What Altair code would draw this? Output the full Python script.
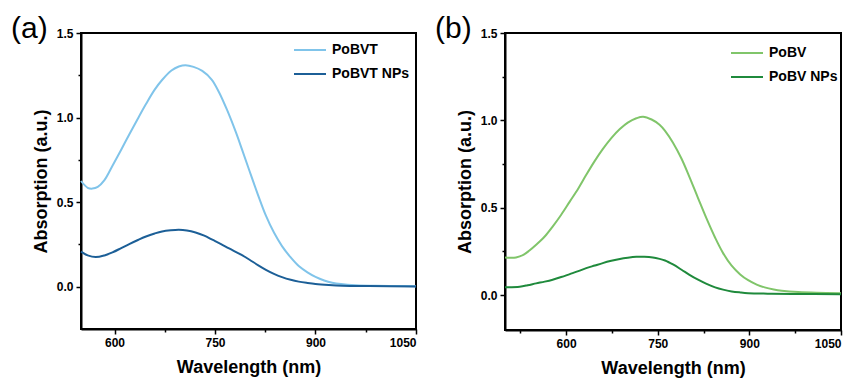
import altair as alt
import pandas as pd

# ---------------- data ----------------
wl_pobvt = [550, 560, 567, 575, 585, 597, 610, 622, 635, 647, 660, 671, 685, 696, 706, 718,
            731, 745, 756, 768, 781, 790, 801, 814, 826, 838, 850, 863, 875, 888, 900, 913,
            925, 938, 960, 990, 1020, 1050]
abs_pobvt = [0.625, 0.585, 0.580, 0.590, 0.630, 0.715, 0.810, 0.900, 0.995, 1.080, 1.165, 1.222,
             1.278, 1.302, 1.310, 1.300, 1.276, 1.225, 1.150, 1.045, 0.915, 0.815, 0.690, 0.545,
             0.420, 0.320, 0.240, 0.173, 0.122, 0.085, 0.058, 0.037, 0.024, 0.016, 0.009, 0.005,
             0.004, 0.003]

wl_pobvt_np = [550, 560, 572, 585, 597, 610, 622, 635, 647, 660, 671, 684, 696, 708, 721, 734,
               746, 759, 771, 789, 801, 814, 826, 838, 850, 863, 875, 888, 900, 920, 940, 980, 1050]
abs_pobvt_np = [0.207, 0.185, 0.175, 0.185, 0.203, 0.228, 0.252, 0.276, 0.297, 0.315, 0.327,
                0.334, 0.337, 0.333, 0.321, 0.302, 0.278, 0.252, 0.226, 0.189, 0.161, 0.128,
                0.100, 0.076, 0.057, 0.041, 0.030, 0.022, 0.016, 0.010, 0.006, 0.004, 0.002]

wl_pobv = [500, 510, 518, 530, 540, 551, 565, 578, 592, 606, 620, 633, 647, 660, 674, 688, 701,
           715, 726, 740, 753, 762, 775, 789, 802, 816, 830, 844, 857, 871, 885, 898, 912, 925,
           940, 953, 980, 1010, 1050]
abs_pobv = [0.215, 0.213, 0.215, 0.230, 0.255, 0.288, 0.335, 0.392, 0.460, 0.535, 0.610, 0.688,
            0.768, 0.835, 0.898, 0.950, 0.987, 1.012, 1.021, 1.005, 0.975, 0.940, 0.872, 0.780,
            0.675, 0.555, 0.437, 0.328, 0.240, 0.168, 0.118, 0.085, 0.060, 0.044, 0.032, 0.025,
            0.017, 0.013, 0.011]

wl_pobv_np = [500, 524, 537, 551, 565, 578, 592, 606, 620, 633, 647, 660, 674, 688, 701, 715,
              728, 742, 753, 762, 775, 789, 802, 816, 830, 844, 857, 871, 885, 898, 930, 970, 1050]
abs_pobv_np = [0.044, 0.048, 0.056, 0.067, 0.077, 0.088, 0.103, 0.120, 0.137, 0.154, 0.169,
               0.183, 0.196, 0.207, 0.214, 0.219, 0.219, 0.215, 0.207, 0.198, 0.175, 0.145,
               0.116, 0.088, 0.064, 0.044, 0.031, 0.021, 0.015, 0.011, 0.008, 0.006, 0.005]

names_a = ["PoBVT", "PoBVT NPs"]
names_b = ["PoBV", "PoBV NPs"]
colors_a = ["#80c4ea", "#1c5f97"]
colors_b = ["#80c56a", "#1f8a3c"]

x_major = [600, 750, 900, 1050]
y_ticks = [0.0, 0.25, 0.5, 0.75, 1.0, 1.25, 1.5]

FONT = "Liberation Sans"


def make_df(series):
    rows = []
    for name, wl, ab in series:
        for w, a in zip(wl, ab):
            rows.append({"series": name, "wavelength": w, "absorption": a})
    return pd.DataFrame(rows)


df_a = make_df([(names_a[0], wl_pobvt, abs_pobvt), (names_a[1], wl_pobvt_np, abs_pobvt_np)])
df_b = make_df([(names_b[0], wl_pobv, abs_pobv), (names_b[1], wl_pobv_np, abs_pobv_np)])


def panel(df, names, colors, xdom, ydom, xminor, tag, w, h, lx, ly):
    x_vals = sorted(x_major + xminor)
    x_axis = alt.Axis(
        values=x_vals,
        format="d",
        labelExpr="datum.value % 150 == 0 ? datum.label : ''",
        tickSize={"condition": {"test": "datum.value % 150 == 0", "value": 5}, "value": 3},
        title="Wavelength (nm)",
        titlePadding=10,
        labelPadding=3,
    )
    y_axis = alt.Axis(
        values=y_ticks,
        format=".1f",
        labelExpr="datum.value % 0.5 == 0 ? datum.label : ''",
        tickSize={"condition": {"test": "datum.value % 0.5 == 0", "value": 5}, "value": 3},
        title="Absorption (a.u.)",
        titlePadding=6,
        labelPadding=3,
    )
    lines = alt.Chart(df).mark_line(strokeWidth=2, interpolate="catmull-rom").encode(
        x=alt.X("wavelength:Q", scale=alt.Scale(domain=xdom, nice=False, zero=False), axis=x_axis),
        y=alt.Y("absorption:Q", scale=alt.Scale(domain=ydom, nice=False, zero=False), axis=y_axis),
        color=alt.Color(
            "series:N",
            scale=alt.Scale(domain=names, range=colors),
            sort=names,
            legend=alt.Legend(
                title=None,
                orient="none",
                legendX=lx,
                legendY=ly,
                symbolType="stroke",
                symbolSize=1024,
                symbolStrokeWidth=2,
                labelFont=FONT,
                labelFontWeight="bold",
                labelFontSize=14,
                labelColor="black",
                rowPadding=-2,
                labelOffset=5,
            ),
        ),
    )
    label = alt.Chart(pd.DataFrame({"t": [tag]})).mark_text(
        font=FONT, fontSize=30, align="left", baseline="alphabetic", color="black"
    ).encode(text="t:N", x=alt.value(-70), y=alt.value(5))
    return alt.layer(lines, label).properties(width=w, height=h)


pa = panel(df_a, names_a, colors_a, [550, 1050], [-0.25, 1.5], [675, 825, 975], "(a)",
           335, 296, 212, 0)
pb = panel(df_b, names_b, colors_b, [500, 1050], [-0.2, 1.5], [525, 675, 825, 975], "(b)",
           336, 297, 225, 3)

chart = (
    alt.hconcat(pa, pb, spacing=13)
    .resolve_scale(color="independent")
    .configure(padding={"left": 10, "top": 13, "right": 0, "bottom": 0})
    .configure_view(stroke="black", strokeWidth=2)
    .configure_axis(
        grid=False,
        domainColor="black",
        domainWidth=2,
        tickColor="black",
        tickWidth=1.5,
        labelFont=FONT,
        labelFontWeight="bold",
        labelFontSize=12,
        labelColor="black",
        titleFont=FONT,
        titleFontWeight="bold",
        titleFontSize=18,
        titleColor="black",
    )
)

chart.save("out.html", embed_options={"renderer": "svg", "actions": False})
